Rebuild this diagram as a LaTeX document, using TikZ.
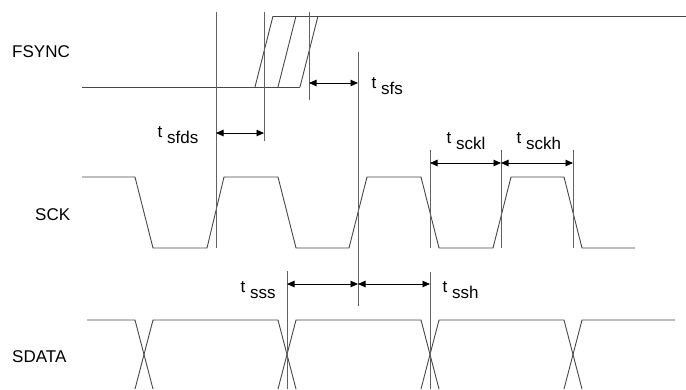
\documentclass[tikz,border=0pt]{standalone}
\usepackage{fontspec}
\setmainfont{Liberation Sans}
\usetikzlibrary{arrows.meta}
\tikzset{
  sig/.style={draw=black!72, line width=0.9bp, line join=miter},
  mark line/.style={draw=black!62, line width=0.9bp},
  dim/.style={draw=black, line width=0.9bp, {Triangle[length=7.5bp,width=6.5bp]}-{Triangle[length=7.5bp,width=6.5bp]}},
  lbl/.style={inner sep=0pt, anchor=base west, font=\fontsize{17bp}{20bp}\selectfont},
  tlbl/.style={inner sep=0pt, anchor=base west, font=\fontsize{17bp}{20bp}\selectfont}
}
\newcommand{\tsub}[1]{t\ \raisebox{-6bp}{#1}}
\begin{document}
\begin{tikzpicture}[x=1bp,y=-1bp]
\path[use as bounding box] (0,0) rectangle (686,389);

% signal names
\node[lbl] (nfs) at (12,57.5) {FSYNC};
\node[lbl] (nsck) at (35,220) {SCK};
\node[lbl] (nsd) at (12,362) {SDATA};

% FSYNC
\draw[sig] (82,87) -- (300,87);
\draw[sig] (273,16) -- (686,16);
\draw[sig] (255,87) -- (273,16);
\draw[sig] (278,87) -- (296,16);
\draw[sig] (300,87) -- (318,16);

% SCK
\draw[sig] (82,177) -- (135,177) -- (153,248) -- (207,248) -- (224,177)
  -- (278,177) -- (296,248) -- (349,248) -- (367,177) -- (421,177)
  -- (439,248) -- (493,248) -- (511,177) -- (564,177) -- (582,248) -- (635,248);

% SDATA
\draw[sig] (87,320) -- (135,320) -- (153,389);
\draw[sig] (135,389) -- (153,320) -- (278,320) -- (296,389);
\draw[sig] (278,389) -- (296,320) -- (421,320) -- (439,389);
\draw[sig] (421,389) -- (439,320) -- (564,320) -- (582,389);
\draw[sig] (564,389) -- (582,320) -- (675,320);

% timing marker lines
\coordinate (v1t) at (216,12);  \coordinate (v1b) at (216,248);
\coordinate (v2t) at (264,12);  \coordinate (v2b) at (264,141);
\coordinate (v3t) at (309,12);  \coordinate (v3b) at (309,100);
\coordinate (v4t) at (358,52);  \coordinate (v4b) at (358,306);
\coordinate (v5t) at (430,150); \coordinate (v5b) at (430,248);
\coordinate (v6t) at (501,150); \coordinate (v6b) at (501,248);
\coordinate (v7t) at (573,150); \coordinate (v7b) at (573,248);
\coordinate (v8t) at (430,272); \coordinate (v8b) at (430,389);
\coordinate (v9t) at (287,271); \coordinate (v9b) at (287,389);
\foreach \v in {1,...,9} {\draw[mark line] (v\v t) -- (v\v b);}

% dimension arrows
\draw[dim] (v1t |- 0,133) -- (v2t |- 0,133);
\draw[dim] (v3t |- 0,83) -- (v4t |- 0,83);
\draw[dim] (v5t |- 0,163) -- (v6t |- 0,163);
\draw[dim] (v6t |- 0,163) -- (v7t |- 0,163);
\draw[dim] (v9t |- 0,284) -- (v4t |- 0,284);
\draw[dim] (v4t |- 0,284) -- (v8t |- 0,284);

% timing labels
\node[tlbl] (lsfds) at (157.5,137) {\tsub{sfds}};
\node[tlbl] (lsfs) at (371.5,88.5) {\tsub{sfs}};
\node[tlbl] (lsckl) at (446.5,143) {\tsub{sckl}};
\node[tlbl] (lsckh) at (516.5,143) {\tsub{sckh}};
\node[tlbl] (lsss) at (240.5,292) {\tsub{sss}};
\node[tlbl] (lssh) at (442.5,292) {\tsub{ssh}};
\end{tikzpicture}
\end{document}
